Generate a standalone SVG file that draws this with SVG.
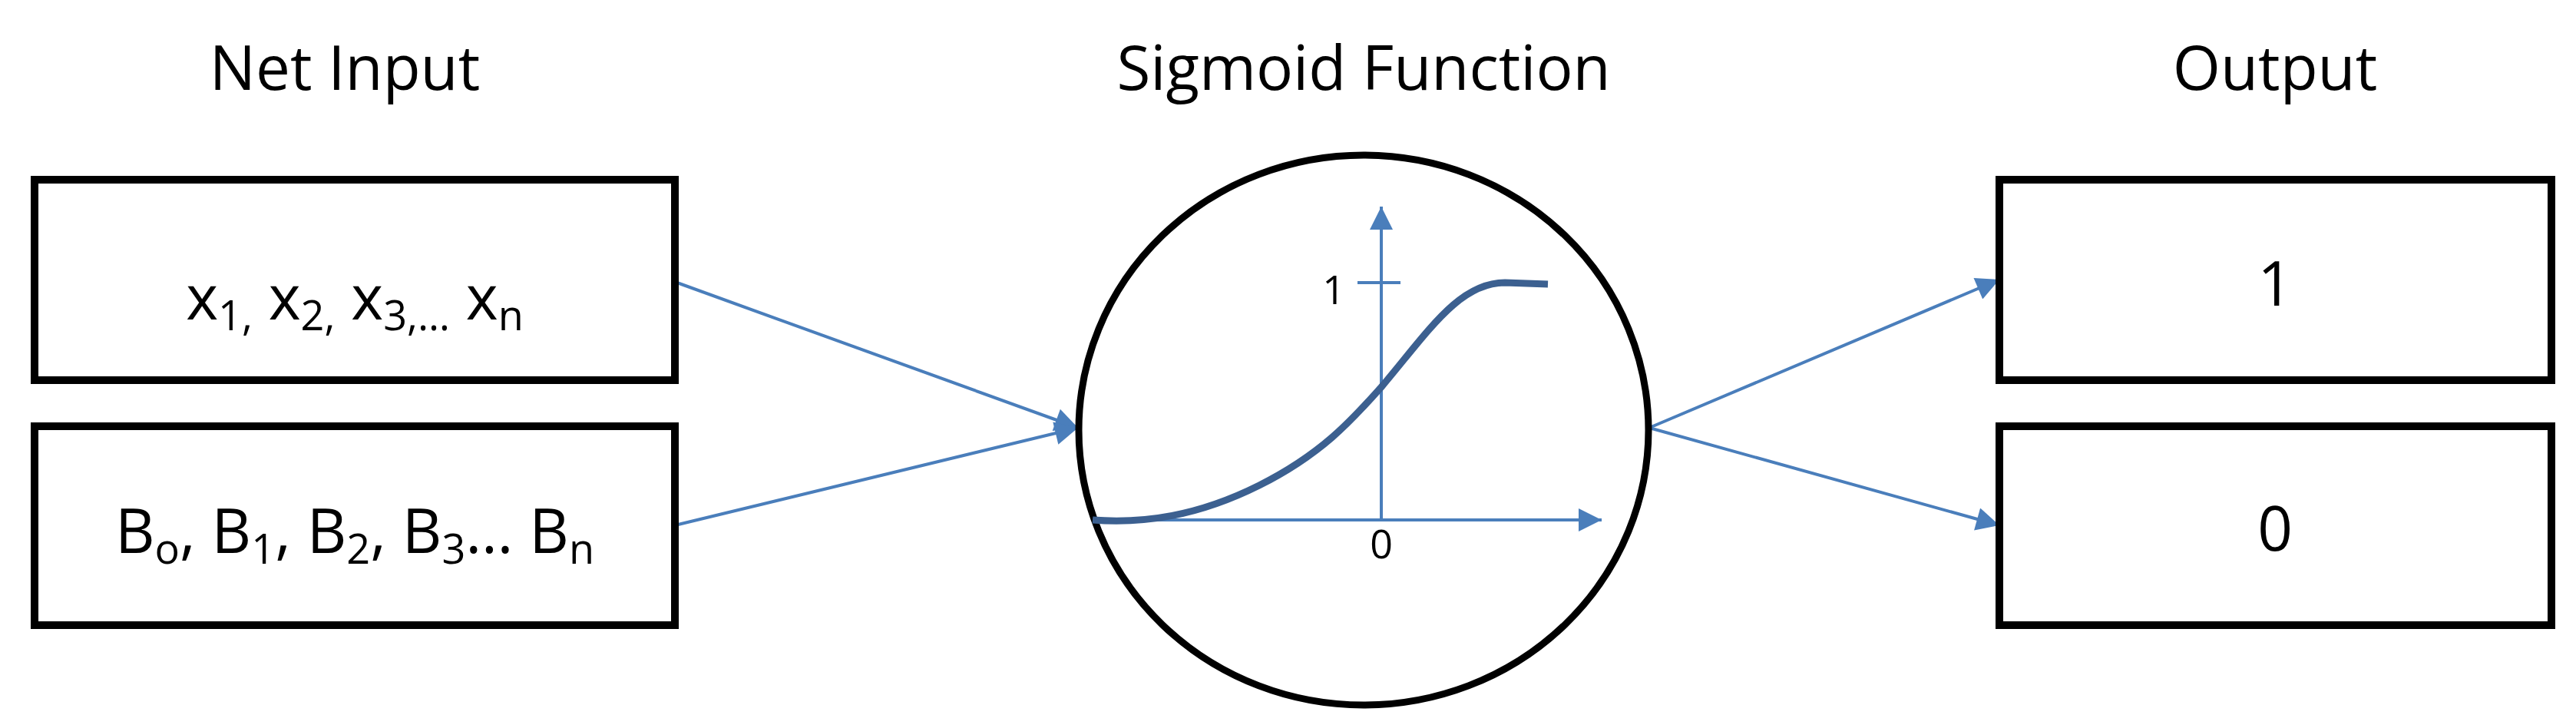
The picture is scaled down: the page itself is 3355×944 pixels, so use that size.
<svg xmlns="http://www.w3.org/2000/svg" width="3355" height="944" viewBox="0 0 3355 944">
<style>
text{font-family:"Open Sans","Liberation Sans",sans-serif;fill:#000}
.t{font-size:80px;text-anchor:middle}
.s{font-size:54px}
.box{fill:#fff;stroke:#000;stroke-width:10}
.c{stroke:#4a7ebb;stroke-width:4;fill:none}
</style>
<defs>
<marker id="ah" viewBox="0 0 10 10" refX="10" refY="5" markerWidth="9" markerHeight="9" markerUnits="userSpaceOnUse" orient="auto" style="overflow:visible">
<path d="M0,0 L10,5 L0,10 z" fill="#4a7ebb" transform="scale(1)"/>
</marker>
<marker id="ahs" viewBox="0 0 10 10" refX="10" refY="5" markerWidth="36" markerHeight="30" markerUnits="userSpaceOnUse" orient="auto">
<path d="M0,0 L10,5 L0,10 z" fill="#4a7ebb"/>
</marker>
</defs>
<rect width="3355" height="944" fill="#fff"/>
<text class="t" x="449" y="117">Net Input</text>
<text class="t" x="1776" y="117">Sigmoid Function</text>
<text class="t" x="2963" y="117">Output</text>
<g id="connectors">
<line class="c" x1="879" y1="367" x2="1404" y2="557" marker-end="url(#ahs)"/>
<line class="c" x1="879" y1="684" x2="1404" y2="557" marker-end="url(#ahs)"/>
<line class="c" x1="2148" y1="557" x2="2604" y2="364" marker-end="url(#ahs)"/>
<line class="c" x1="2148" y1="557" x2="2604" y2="684" marker-end="url(#ahs)"/>
</g>
<g id="inputs-x">
<rect class="box" x="45" y="234" width="834" height="261"/>
<text class="t" x="462" y="416">x<tspan class="s" dy="14">1,</tspan><tspan dy="-14"> x</tspan><tspan class="s" dy="14">2,</tspan><tspan dy="-14"> x</tspan><tspan class="s" dy="14">3,…</tspan><tspan dy="-14"> x</tspan><tspan class="s" dy="14">n</tspan></text>
</g>
<g id="inputs-b">
<rect class="box" x="45" y="555" width="834" height="259"/>
<text class="t" x="462" y="720">B<tspan class="s" dy="14">o</tspan><tspan dy="-14">, B</tspan><tspan class="s" dy="14">1</tspan><tspan dy="-14">, B</tspan><tspan class="s" dy="14">2</tspan><tspan dy="-14">, B</tspan><tspan class="s" dy="14">3</tspan><tspan dy="-14">… B</tspan><tspan class="s" dy="14">n</tspan></text>
</g>
<g id="sigmoid">
<ellipse cx="1776" cy="560" rx="371" ry="358" fill="#fff" stroke="#000" stroke-width="9"/>
<line class="c" x1="1799" y1="677" x2="1799" y2="269" marker-end="url(#ahs)"/>
<line class="c" x1="1423" y1="677" x2="2086" y2="677" marker-end="url(#ahs)"/>
<line class="c" x1="1768" y1="368" x2="1824" y2="368"/>
<path d="M1423,677 C1490,682 1560,672 1640,632 C1720,592 1760,548 1799,504 C1860,432 1900,368 1960,368 L2016,370" fill="none" stroke="#3c6090" stroke-width="9"/>
<text x="1737" y="396" style="font-size:52px;text-anchor:middle">1</text>
<text x="1799" y="727" style="font-size:52px;text-anchor:middle">0</text>
</g>
<g id="out-1">
<rect class="box" x="2604" y="234" width="719" height="261"/>
<text class="t" x="2963" y="398">1</text>
</g>
<g id="out-0">
<rect class="box" x="2604" y="555" width="719" height="259"/>
<text class="t" x="2963" y="717">0</text>
</g>
</svg>
